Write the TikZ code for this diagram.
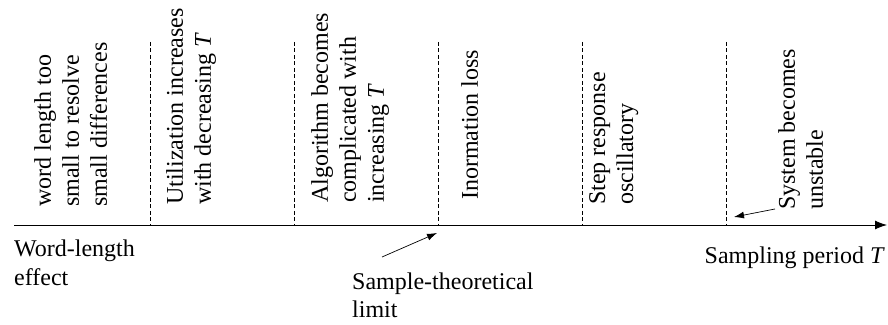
\documentclass[tikz,border=0pt]{standalone}
\usepackage{fontspec}
\setmainfont{Liberation Serif}
\usetikzlibrary{arrows.meta}
\tikzset{
  txt/.style={inner sep=0pt, align=left, font=\fontsize{24}{28}\selectfont},
  vtxt/.style={txt, rotate=90, anchor=north west},
  divider/.style={line width=0.6pt, dash pattern=on 4pt off 2.5pt},
  axis/.style={line width=0.9pt, -{Latex[length=12pt,width=9pt]}},
  pointer/.style={line width=0.7pt, -{Latex[length=10pt,width=7pt]}}
}
\begin{document}
\begin{tikzpicture}[x=1pt,y=1pt]
\useasboundingbox (0,0) rectangle (888,324);
% axis
\coordinate (a0) at (14,99);
\coordinate (a1) at (887,99);
\draw[axis] (a0) -- (a1);
% dividers
\foreach \i/\x in {1/150,2/294,3/438,4/582,5/726}{
  \coordinate (d\i top) at (\x,282);
  \coordinate (d\i bot) at (\x,99);
  \draw[divider] (d\i top) -- (d\i bot);
}
% rotated texts
\node[vtxt] (c1) at (34,117) {word length too\\small to resolve\\small differences};
\node[vtxt] (c2) at (166,119) {Utilization increases\\with decreasing \textit{T}};
\node[vtxt] (c3) at (311,121) {Algorithm becomes\\complicated with\\increasing \textit{T}};
\node[vtxt] (c4) at (461,124) {Inormation loss};
\node[vtxt] (c5) at (589,119) {Step response\\oscillatory};
\node[vtxt] (c6) at (778,114) {System becomes\\unstable};
% labels
\node[txt, anchor=base west] (wl) at (14,39) {Word-length\\effect};
\node[txt, anchor=base west] (st) at (352,7) {Sample-theoretical\\limit};
\node[txt, anchor=base east] (sp) at (885,61) {Sampling period \textit{T}};
% pointers
\coordinate (s0) at (382,67);
\coordinate (s1) at (437,91);
\draw[pointer] (s0) -- (s1);
\coordinate (u0) at (775,115);
\coordinate (u1) at (734,107);
\draw[pointer] (u0) -- (u1);
\end{tikzpicture}
\end{document}
